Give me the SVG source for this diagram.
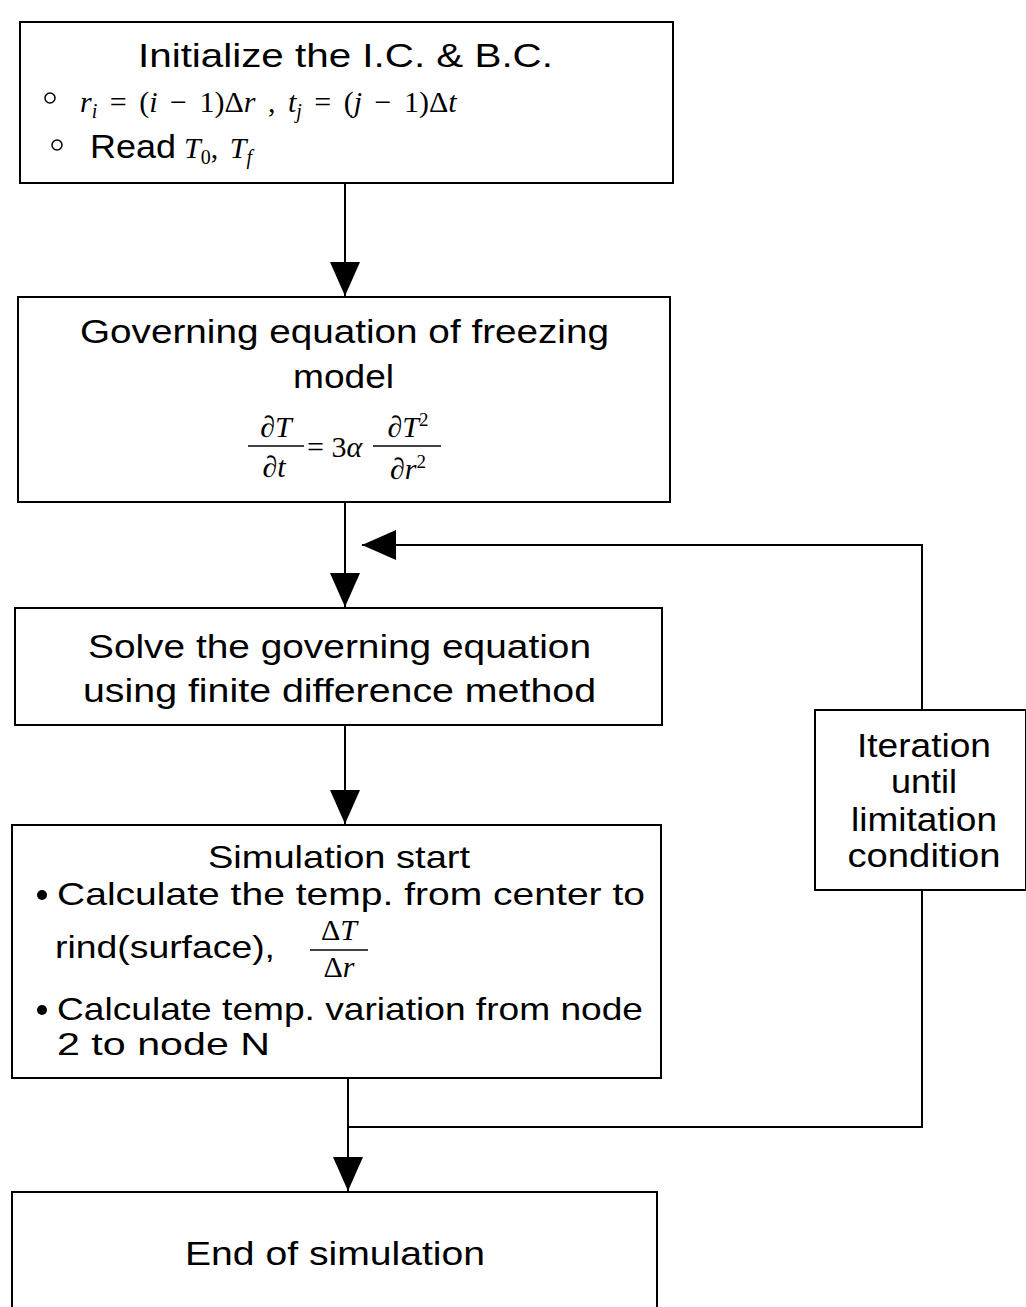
<svg xmlns="http://www.w3.org/2000/svg" width="1026" height="1307" viewBox="0 0 1026 1307">
<style>
.box{fill:#fff;stroke:#000;stroke-width:2}
.t{font-family:"Liberation Sans",Arial,sans-serif;font-size:34px;fill:#000}
.s{font-size:32px}
.m{font-family:"Liberation Serif","Times New Roman",serif;font-size:30px;fill:#000}
.i{font-style:italic}
.c{fill:none;stroke:#000;stroke-width:2}
</style>
<defs>
<marker id="ah" markerUnits="userSpaceOnUse" markerWidth="36" markerHeight="32" refX="34" refY="16" orient="auto">
<path d="M0,1 L34,16 L0,31 Z" fill="#000"/>
</marker>
</defs>
<g id="connectors">
<path class="c" d="M345,184 V296" marker-end="url(#ah)"/>
<path class="c" d="M345,503 V607" marker-end="url(#ah)"/>
<path class="c" d="M922,710 V545 H362" marker-end="url(#ah)"/>
<path class="c" d="M922,890 V1127 H348"/>
<path class="c" d="M345,726 V824" marker-end="url(#ah)"/>
<path class="c" d="M348,1079 V1191" marker-end="url(#ah)"/>
</g>
<g id="n1">
<rect class="box" x="20" y="22" width="653" height="161"/>
<text class="t" x="138" y="67" textLength="415" lengthAdjust="spacingAndGlyphs">Initialize the I.C. &amp; B.C.</text>
<circle cx="50" cy="98" r="5" fill="none" stroke="#000" stroke-width="1.5"/>
<text class="m" y="112" x="80" font-size="32" word-spacing="5"><tspan class="i">r</tspan><tspan dy="6" font-size="20" class="i">i</tspan><tspan dy="-6"> = (</tspan><tspan class="i">i</tspan><tspan> − 1)Δ</tspan><tspan class="i">r</tspan><tspan> ,  </tspan><tspan class="i">t</tspan><tspan dy="6" font-size="20" class="i">j</tspan><tspan dy="-6"> = (</tspan><tspan class="i">j</tspan><tspan> − 1)Δ</tspan><tspan class="i">t</tspan></text>
<circle cx="57" cy="145" r="5" fill="none" stroke="#000" stroke-width="1.5"/>
<text class="t" x="90" y="158" textLength="86" lengthAdjust="spacingAndGlyphs">Read</text>
<text class="m" y="158" x="184" font-size="32" word-spacing="4"><tspan class="i">T</tspan><tspan dy="6" font-size="20">0</tspan><tspan dy="-6">, </tspan><tspan class="i">T</tspan><tspan dy="6" font-size="20" class="i">f</tspan></text>
</g>
<g id="n2">
<rect class="box" x="18" y="297" width="652" height="205"/>
<text class="t" x="80" y="343" textLength="529" lengthAdjust="spacingAndGlyphs">Governing equation of freezing</text>
<text class="t" x="293" y="388" textLength="101" lengthAdjust="spacingAndGlyphs">model</text>
<text class="m" x="276" y="437" text-anchor="middle">∂<tspan class="i">T</tspan></text>
<line x1="248" y1="446" x2="304" y2="446" stroke="#000" stroke-width="1.5"/>
<text class="m" x="274" y="477" text-anchor="middle">∂<tspan class="i">t</tspan></text>
<text class="m" x="307" y="457">= 3<tspan class="i">α</tspan></text>
<text class="m" x="408" y="437" text-anchor="middle">∂<tspan class="i">T</tspan><tspan dy="-11" font-size="19">2</tspan></text>
<line x1="373" y1="446" x2="441" y2="446" stroke="#000" stroke-width="1.5"/>
<text class="m" x="408" y="479" text-anchor="middle">∂<tspan class="i">r</tspan><tspan dy="-11" font-size="19">2</tspan></text>
</g>
<g id="n3">
<rect class="box" x="15" y="608" width="647" height="117"/>
<text class="t" x="88" y="658" textLength="503" lengthAdjust="spacingAndGlyphs">Solve the governing equation</text>
<text class="t" x="83" y="702" textLength="513" lengthAdjust="spacingAndGlyphs">using finite difference method</text>
</g>
<g id="n4">
<rect class="box" x="815" y="710" width="211" height="180"/>
<text class="t" x="924" y="757" text-anchor="middle" textLength="134" lengthAdjust="spacingAndGlyphs">Iteration</text>
<text class="t" x="924" y="793" text-anchor="middle" textLength="66" lengthAdjust="spacingAndGlyphs">until</text>
<text class="t" x="924" y="831" text-anchor="middle" textLength="146" lengthAdjust="spacingAndGlyphs">limitation</text>
<text class="t" x="924" y="867" text-anchor="middle" textLength="153" lengthAdjust="spacingAndGlyphs">condition</text>
</g>
<g id="n5">
<rect class="box" x="12" y="825" width="649" height="253"/>
<text class="t s" x="208" y="868" textLength="262" lengthAdjust="spacingAndGlyphs">Simulation start</text>
<circle cx="42" cy="895" r="5" fill="#000"/>
<text class="t s" x="57" y="905" textLength="588" lengthAdjust="spacingAndGlyphs">Calculate the temp. from center to</text>
<text class="t s" x="55" y="958" textLength="220" lengthAdjust="spacingAndGlyphs">rind(surface),</text>
<text class="m" x="339" y="940" text-anchor="middle">Δ<tspan class="i">T</tspan></text>
<line x1="310" y1="950" x2="368" y2="950" stroke="#000" stroke-width="1.5"/>
<text class="m" x="339" y="977" text-anchor="middle">Δ<tspan class="i">r</tspan></text>
<circle cx="42" cy="1010" r="5" fill="#000"/>
<text class="t s" x="57" y="1020" textLength="586" lengthAdjust="spacingAndGlyphs">Calculate temp. variation from node</text>
<text class="t s" x="57" y="1055" textLength="213" lengthAdjust="spacingAndGlyphs">2 to node N</text>
</g>
<g id="n6">
<rect class="box" x="12" y="1192" width="645" height="125"/>
<text class="t" x="185" y="1265" textLength="300" lengthAdjust="spacingAndGlyphs">End of simulation</text>
</g>
</svg>
